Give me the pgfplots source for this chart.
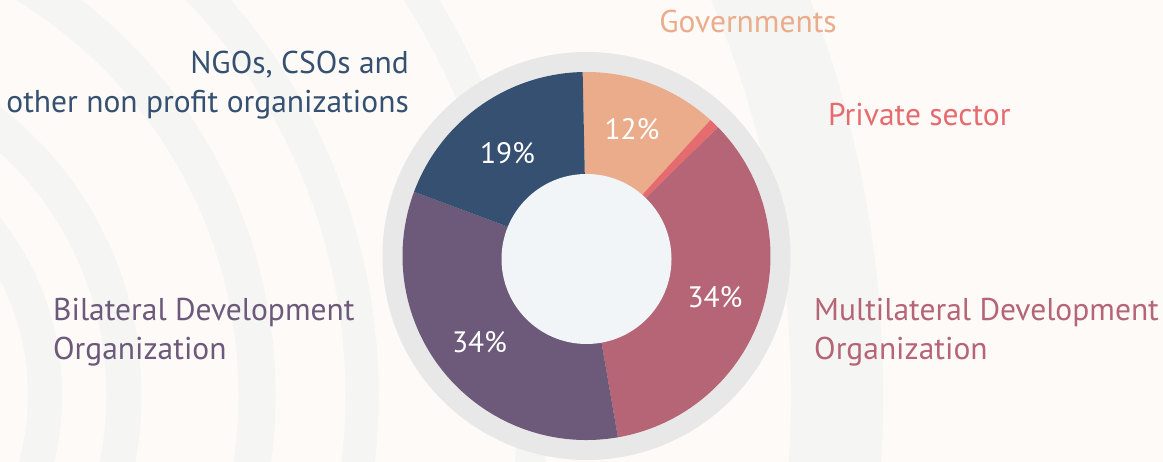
\documentclass[border=0pt]{standalone}
\usepackage{pgfplots}
\pgfplotsset{compat=1.18}
\usepackage{pgfplotstable}
\usepackage{fontspec}
\setmainfont{PT Sans}
\definecolor{bg}{HTML}{FDFAF7}
\definecolor{band}{HTML}{F5F5F3}
\definecolor{ring}{HTML}{E8E8E8}
\definecolor{hole}{HTML}{F1F5F7}
\definecolor{cgov}{HTML}{EAAC8B}
\definecolor{cpriv}{HTML}{E56B6F}
\definecolor{cmulti}{HTML}{B56576}
\definecolor{cbi}{HTML}{6D597A}
\definecolor{cngo}{HTML}{355070}
\pgfplotstableread{
name value
Governments 12.1
Private 0.9
Multilateral 34.6
Bilateral 33.4
NGOs 19.0
}\piedata
\begin{document}%
\begin{tikzpicture}
\def\aS{91.2}
\pgfplotstablegetelem{0}{value}\of\piedata\pgfmathsetmacro\aA{\aS-3.6*\pgfplotsretval}
\pgfplotstablegetelem{1}{value}\of\piedata\pgfmathsetmacro\aB{\aA-3.6*\pgfplotsretval}
\pgfplotstablegetelem{2}{value}\of\piedata\pgfmathsetmacro\aC{\aB-3.6*\pgfplotsretval}
\pgfplotstablegetelem{3}{value}\of\piedata\pgfmathsetmacro\aD{\aC-3.6*\pgfplotsretval}
\pgfplotstablegetelem{4}{value}\of\piedata\pgfmathsetmacro\aE{\aD-3.6*\pgfplotsretval}
\begin{axis}[x=1bp, y=1bp, xmin=-586, xmax=577, ymin=-205, ymax=257,
  hide axis, clip=false, anchor=south west, at={(0,0)}]
  \coordinate (SW) at (axis cs:-586,-205);
  \coordinate (NE) at (axis cs:577,257);
  \fill[bg] (axis cs:-586,-205) rectangle (axis cs:577,257);
  \begin{scope}
    \clip (axis cs:-586,-205) rectangle (axis cs:577,257);
    \draw[band, line width=34bp] (axis cs:-809,-138) circle[radius=268bp];
    \draw[band, line width=35bp] (axis cs:-809,-138) circle[radius=347bp];
    \draw[band, line width=37bp] (axis cs:-809,-138) circle[radius=480bp];
    \draw[band, line width=33bp] (axis cs:-809,-138) circle[radius=585bp];
    \draw[band, line width=30bp] (axis cs:-809,-138) circle[radius=756bp];
    \draw[band, line width=92bp] (axis cs:-809,-138) circle[radius=1060bp];
  \end{scope}
  \fill[ring] (axis cs:0.5,1) circle[radius=204bp];
  \coordinate (C) at (axis cs:0.5,1);
  \fill[cgov] (C) -- ++(\aS:184bp) arc[start angle=\aS, end angle=\aA, radius=184bp] -- cycle;
  \fill[cpriv] (C) -- ++(\aA:184bp) arc[start angle=\aA, end angle=\aB, radius=184bp] -- cycle;
  \fill[cmulti] (C) -- ++(\aB:184bp) arc[start angle=\aB, end angle=\aC, radius=184bp] -- cycle;
  \fill[cbi] (C) -- ++(\aC:184bp) arc[start angle=\aC, end angle=\aD, radius=184bp] -- cycle;
  \fill[cngo] (C) -- ++(\aD:184bp) arc[start angle=\aD, end angle=\aE, radius=184bp] -- cycle;
  \fill[hole] (axis cs:0.5,-2) circle[radius=85bp];
  \begin{scope}[every node/.style={inner sep=0pt, font=\fontsize{29.5bp}{35bp}\selectfont, text=white}]
    \node[anchor=base] at (axis cs:46,117) {12\%};
    \node[anchor=base] at (axis cs:-78.5,93) {19\%};
    \node[anchor=base] at (axis cs:129,-51) {34\%};
    \node[anchor=base] at (axis cs:-106.5,-96) {34\%};
  \end{scope}
  \begin{scope}[every node/.style={inner sep=0pt, font=\fontsize{31.5bp}{39bp}\selectfont}]
    \node[anchor=base, text=cgov] at (axis cs:162,224) {Governments};
    \node[anchor=base west, text=cpriv] at (axis cs:242,131) {Private sector};
    \node[anchor=base west, text=cmulti] at (axis cs:228,-64) {Multilateral Development};
    \node[anchor=base west, text=cmulti] at (axis cs:228,-103) {Organization};
    \node[anchor=base west, text=cbi] at (axis cs:-533,-64) {Bilateral Development};
    \node[anchor=base west, text=cbi] at (axis cs:-533,-103) {Organization};
    \node[anchor=base east, text=cngo] at (axis cs:-177,183) {NGOs, CSOs and};
    \node[anchor=base east, text=cngo] at (axis cs:-177,144) {other non profit organizations};
  \end{scope}
\end{axis}
\pgfresetboundingbox
\path[use as bounding box] (SW) rectangle (NE);
\end{tikzpicture}%
\end{document}
